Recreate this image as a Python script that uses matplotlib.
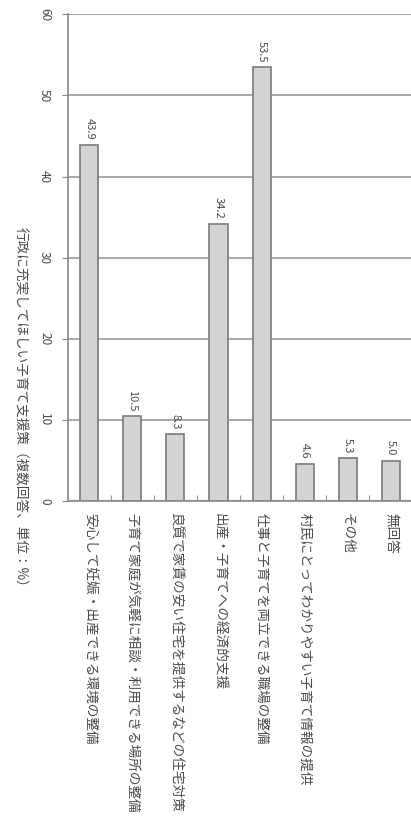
import matplotlib
matplotlib.use("Agg")
import matplotlib.pyplot as plt

plt.rcParams['font.family'] = ['Noto Sans CJK JP', 'DejaVu Sans']

categories = [
    "安心して妊娠・出産できる環境の整備",
    "子育て家庭が気軽に相談・利用できる場所の整備",
    "良質で家賃の安い住宅を提供するなどの住宅対策",
    "出産・子育てへの経済的支援",
    "仕事と子育てを両立できる職場の整備",
    "村民にとってわかりやすい子育て情報の提供",
    "その他",
    "無回答",
]
values = [43.9, 10.5, 8.3, 34.2, 53.5, 4.6, 5.3, 5.0]
yticks = [0, 10, 20, 30, 40, 50, 60]
ylabel = "行政に充実してほしい子育て支援策（複数回答、単位：%）"

text_color = "#4a4a4a"

fig = plt.figure(figsize=(4.11, 8.30), dpi=100)
ax = fig.add_axes([0.165, 0.396, 0.838, 0.587])

x = list(range(len(categories)))
ax.bar(x, values, width=0.42, color="#d4d4d4", edgecolor="#7a7a7a", linewidth=1.2, zorder=3)

for xi, v in zip(x, values):
    ax.text(xi, v + 0.6, f"{v:.1f}", rotation=-90, ha="center", va="bottom",
            fontsize=8, color=text_color)

ax.set_xlim(-0.5, len(categories) - 0.5)
ax.set_ylim(0, 60)
ax.set_yticks(yticks)
ax.set_yticklabels([str(t) for t in yticks], rotation=-90, va="center",
                   fontsize=8.5, color=text_color)
ax.tick_params(axis="y", length=4, color="#888888", pad=8)
ax.yaxis.grid(True, color="#999999", linewidth=1.2, zorder=0)

# small ticks between the categories
ax.set_xticks([i + 0.5 for i in x[:-1]])
ax.set_xticklabels([])
ax.tick_params(axis="x", direction="in", length=4, color="#999999")
for xi, lab in zip(x, categories):
    ax.text(xi, -1.4, lab, rotation=-90, ha="center", va="top", fontsize=9.8,
            color=text_color, clip_on=False)

for side in ["top", "right"]:
    ax.spines[side].set_visible(False)
for side in ["left", "bottom"]:
    ax.spines[side].set_color("#888888")
    ax.spines[side].set_linewidth(1.2)

fig.text(0.05, 0.727, ylabel, rotation=-90, ha="center", va="top",
         fontsize=9.8, color=text_color)

fig.savefig("out.png", dpi=100)
